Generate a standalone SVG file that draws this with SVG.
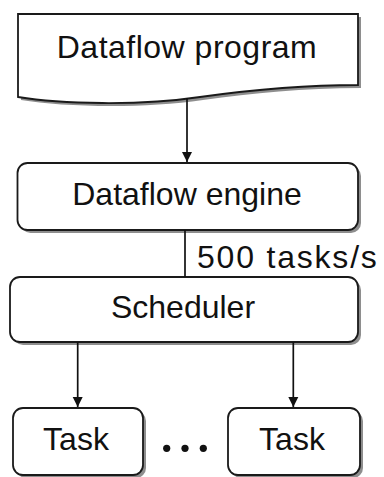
<svg xmlns="http://www.w3.org/2000/svg" width="384" height="477" viewBox="0 0 384 477">
<style>
.shape{fill:#fff;stroke:#1a1a1a;stroke-width:1.8}
.shadow{fill:#7a7a7a;stroke:none;opacity:0.85}
.lbl{font-family:"Liberation Sans",Arial,sans-serif;font-size:32px;fill:#111;text-anchor:middle}
.edge{stroke:#111;stroke-width:1.7;fill:none}
</style>
<defs>
<marker id="arr" viewBox="0 0 10 12" refX="10" refY="6" markerWidth="10" markerHeight="12" markerUnits="userSpaceOnUse" orient="auto">
<path d="M0,1 L10,6 L0,11 Z" fill="#111"/>
</marker>
</defs>
<rect width="384" height="477" fill="#fff"/>
<g id="program">
<path class="shadow" d="M21,17 H361 V88 C303,88 253,93 203,100 C143,109 63,107 21,100 Z"/>
<path class="shape" d="M18,14 H358 V85 C300,85 250,90 200,97 C140,106 60,104 18,97 Z"/>
<text class="lbl" x="187" y="58" letter-spacing="0.5">Dataflow program</text>
</g>
<g id="engine">
<rect class="shadow" x="20.5" y="166" width="340.5" height="67" rx="10"/>
<rect class="shape" x="17.5" y="163" width="340.5" height="67" rx="10"/>
<text class="lbl" x="187" y="205">Dataflow engine</text>
</g>
<g id="scheduler">
<rect class="shadow" x="13" y="280" width="348" height="65" rx="10"/>
<rect class="shape" x="10" y="277" width="348" height="65" rx="10"/>
<text class="lbl" x="183" y="318">Scheduler</text>
</g>
<g id="task1">
<rect class="shadow" x="16" y="411" width="130" height="67" rx="10"/>
<rect class="shape" x="13" y="408" width="130" height="67" rx="10"/>
<text class="lbl" x="76" y="450">Task</text>
</g>
<g id="task2">
<rect class="shadow" x="231" y="411" width="132" height="67" rx="10"/>
<rect class="shape" x="228" y="408" width="132" height="67" rx="10"/>
<text class="lbl" x="292" y="450">Task</text>
</g>
<g id="dots" fill="#111">
<circle cx="166.7" cy="448.3" r="3.6"/>
<circle cx="185" cy="448.3" r="3.6"/>
<circle cx="203.3" cy="448.3" r="3.6"/>
</g>
<g id="connectors">
<line class="edge" x1="187" y1="98" x2="187" y2="162" marker-end="url(#arr)"/>
<line class="edge" x1="185" y1="230" x2="185" y2="277"/>
<line class="edge" x1="77.7" y1="342" x2="77.7" y2="407" marker-end="url(#arr)"/>
<line class="edge" x1="293.3" y1="342" x2="293.3" y2="407" marker-end="url(#arr)"/>
<text class="lbl" x="197" y="268" style="text-anchor:start" letter-spacing="1.8">500 tasks/s</text>
</g>
</svg>
